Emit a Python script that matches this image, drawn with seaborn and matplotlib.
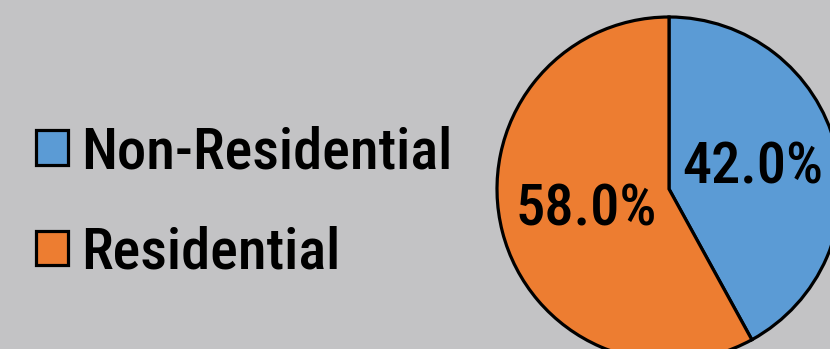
import matplotlib
matplotlib.use("Agg")
import matplotlib.pyplot as plt
import seaborn as sns

categories = ["Non-Residential", "Residential"]
shares = [42.0, 58.0]
colors = ["#5B9BD5", "#ED7D31"]

sns.set_style("white")
plt.rcParams["font.family"] = ["Roboto Condensed", "DejaVu Sans"]
plt.rcParams["font.weight"] = "medium"
plt.rcParams["text.color"] = "black"
BG = "#C3C3C5"

W, H = 830, 349
fig = plt.figure(figsize=(W / 100, H / 100), dpi=100, facecolor=BG)

cx, cy, r = 669, 189, 172
ax = fig.add_axes([(cx - r) / W, (H - cy - r) / H, 2 * r / W, 2 * r / H])
ax.set_facecolor(BG)
wedges, texts, autotexts = ax.pie(
    shares, colors=colors, startangle=90, counterclock=False,
    autopct="%.1f%%", pctdistance=0.5, radius=1,
    wedgeprops=dict(edgecolor="black", linewidth=2.3),
    textprops=dict(fontsize=42, color="black", fontweight="medium"),
)
ax.set_xlim(-1, 1)
ax.set_ylim(-1, 1)
ax.axis("off")
for w in wedges:
    w.set_clip_on(False)

leg = fig.legend(
    wedges, categories, loc="center left",
    bbox_to_anchor=(13 / W, (H - 203) / H), frameon=False,
    fontsize=42, handlelength=0.54, handleheight=0.54,
    handletextpad=0.22, labelspacing=0.78, borderaxespad=0,
    labelcolor="black",
)

fig.savefig("out.png", dpi=100, facecolor=BG)
